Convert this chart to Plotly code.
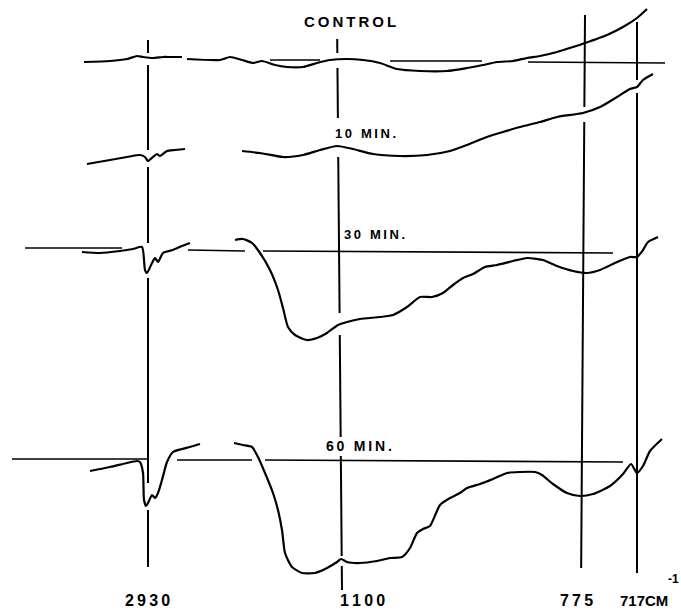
import plotly.graph_objects as go

# ---- spectra traces (chart x position, chart y position) ----
control_a_x = [84, 110, 127, 137, 143, 153, 163, 170, 182]
control_a_y = [62, 61, 59, 56, 57, 58, 57, 57, 57]
control_b_x = [187, 220, 230, 242, 253, 262, 275, 287, 303, 317, 330, 347, 363, 380, 397, 420,
               447, 467, 483, 497, 513, 527, 540, 557, 573, 585, 607, 623, 637, 647]
control_b_y = [59, 60, 57, 60, 63, 61, 65, 67, 67, 63, 60, 59, 60, 63, 69, 71,
               71, 68, 65, 62, 61, 58, 56, 52, 47, 43, 35, 27, 18, 9]

min10_a_x = [87, 110, 127, 140, 145, 148, 153, 157, 160, 167, 175, 185]
min10_a_y = [164, 160, 157, 155, 157, 161, 157, 154, 156, 151, 150, 149]
min10_b_x = [242, 260, 283, 303, 320, 337, 353, 373, 400, 427, 450, 467, 487, 503, 520, 540,
             557, 583, 600, 617, 630, 637, 643, 653]
min10_b_y = [151, 153, 157, 155, 150, 146, 149, 154, 156, 155, 151, 145, 137, 132, 127, 122,
             117, 113, 107, 97, 89, 87, 80, 74]

min30_a_x = [82, 100, 120, 133, 142, 145, 147, 152, 155, 158, 163, 173, 182, 190]
min30_a_y = [252, 253, 251, 249, 247, 270, 273, 263, 258, 262, 253, 250, 246, 243]
min30_b_x = [235, 243, 252, 260, 270, 278, 283, 288, 295, 307, 317, 327, 338, 347, 360, 380,
             393, 407, 420, 432, 443, 453, 463, 473, 485, 497, 513, 527, 537, 543, 557, 573,
             587, 600, 617, 630, 637, 643, 648, 658]
min30_b_y = [240, 239, 243, 253, 270, 290, 308, 327, 335, 340, 338, 333, 325, 322, 319, 317,
             315, 307, 297, 297, 293, 285, 278, 274, 267, 265, 261, 258, 259, 260, 266, 271,
             273, 270, 262, 257, 257, 250, 242, 237]

min60_a_x = [90, 110, 127, 137, 140, 143, 144, 146, 148, 152, 155, 158, 162, 167, 173, 182, 190, 200]
min60_a_y = [471, 467, 463, 461, 462, 473, 500, 506, 503, 495, 498, 493, 480, 462, 452, 449, 447, 444]
min60_b_x = [234, 243, 252, 258, 265, 273, 278, 282, 285, 292, 302, 315, 327, 337, 341, 347,
             360, 377, 390, 402, 410, 417, 423, 430, 440, 450, 460, 467, 480, 493, 507, 520,
             535, 542, 553, 567, 580, 593, 610, 623, 631, 637, 643, 650, 662]
min60_b_y = [443, 445, 447, 457, 473, 493, 510, 530, 553, 567, 573, 573, 568, 562, 559, 562,
             563, 561, 558, 557, 548, 533, 529, 526, 505, 498, 493, 488, 484, 479, 473, 472,
             472, 475, 484, 493, 496, 494, 486, 474, 464, 473, 466, 451, 439]

# ---- reference (band) lines: x top, x bottom, list of (y start, y end) ----
band_2930 = (148, 148, [(40, 53), (65, 150), (167, 243), (278, 483), (510, 567)])
band_1100 = (337, 342, [(39, 53), (68, 118), (157, 313), (335, 437), (456, 556), (566, 590)])
band_775 = (585, 581, [(15, 107), (122, 568)])
band_717 = (637, 637, [(22, 80), (93, 573)])
bands = [band_2930, band_1100, band_775, band_717]

# ---- baselines: (x start, x end, y start, y end) ----
baselines = [
    (270, 320, 60, 60), (390, 482, 61, 61), (528, 665, 62, 63),
    (25, 122, 248, 248), (188, 245, 250, 251), (263, 613, 251, 253),
    (12, 147, 459, 459), (177, 252, 460, 460), (265, 623, 460, 462),
]

# ---- text ----
TS = "\u2009"  # thin space to mimic the wide lettering
trace_labels = ["CONTROL", "10 MIN.", "30 MIN.", "60 MIN."]
trace_label_x = [350, 365, 342, 359]
trace_label_y = [21, 133, 234, 446]
trace_label_anchor = ["center", "center", "left", "center"]
trace_label_size = [15, 13, 13, 14]

tick_labels = ["2930", "1100", "775"]
tick_x = [147, 362, 576]
tick_y = 600
unit_label = "717CM"
unit_sup = "-1"

FONT = "Liberation Sans, Arial, sans-serif"

fig = go.Figure()

curves = [(control_a_x, control_a_y), (control_b_x, control_b_y),
          (min10_a_x, min10_a_y), (min10_b_x, min10_b_y),
          (min30_a_x, min30_a_y), (min30_b_x, min30_b_y),
          (min60_a_x, min60_a_y), (min60_b_x, min60_b_y)]
for cx, cy in curves:
    fig.add_trace(go.Scatter(x=cx, y=cy, mode="lines",
                             line=dict(color="black", width=2.2, shape="spline", smoothing=0.6),
                             hoverinfo="skip", showlegend=False))

for xt, xb, segs in bands:
    xs, ys = [], []
    for y0, y1 in segs:
        f0 = (y0 - 15) / (590 - 15)
        f1 = (y1 - 15) / (590 - 15)
        xs += [xt + (xb - xt) * f0, xt + (xb - xt) * f1, None]
        ys += [y0, y1, None]
    fig.add_trace(go.Scatter(x=xs, y=ys, mode="lines", line=dict(color="black", width=2),
                             hoverinfo="skip", showlegend=False))

bx, by = [], []
for x0, x1, y0, y1 in baselines:
    bx += [x0, x1, None]
    by += [y0, y1, None]
fig.add_trace(go.Scatter(x=bx, y=by, mode="lines", line=dict(color="black", width=1.6),
                         hoverinfo="skip", showlegend=False))


def spaced(s):
    return TS.join(list(s))


annotations = []
for t, x, y, a, s in zip(trace_labels, trace_label_x, trace_label_y, trace_label_anchor, trace_label_size):
    annotations.append(dict(x=x, y=y, text=spaced(t), showarrow=False, xanchor=a, yanchor="middle",
                            font=dict(family=FONT, size=s, color="black", weight="bold")))
for t, x in zip(tick_labels, tick_x):
    annotations.append(dict(x=x, y=tick_y, text=spaced(t), showarrow=False, xanchor="center",
                            yanchor="middle",
                            font=dict(family=FONT, size=16, color="black", weight="bold")))
annotations.append(dict(x=670, y=tick_y, text=unit_label, showarrow=False, xanchor="right",
                        yanchor="middle", font=dict(family=FONT, size=15, color="black", weight="bold")))
annotations.append(dict(x=680, y=579, text=unit_sup, showarrow=False, xanchor="right",
                        yanchor="middle", borderpad=0,
                        font=dict(family=FONT, size=12, color="black", weight="bold")))

fig.update_layout(
    width=681, height=611,
    margin=dict(l=0, r=0, t=0, b=0),
    paper_bgcolor="white", plot_bgcolor="white",
    xaxis=dict(range=[0, 681], visible=False, fixedrange=True),
    yaxis=dict(range=[611, 0], visible=False, fixedrange=True),
    annotations=annotations,
    showlegend=False,
)

fig.write_html("out.html")
